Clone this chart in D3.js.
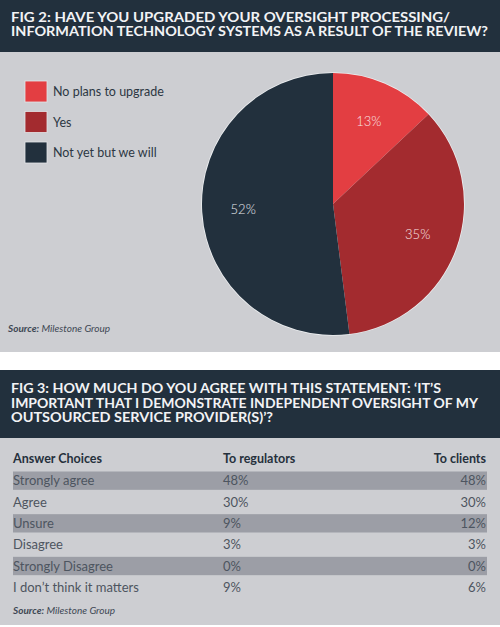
<!DOCTYPE html>
<html><head><meta charset="utf-8">
<script src="https://cdn.jsdelivr.net/npm/d3@7"></script>
<style>
html,body{margin:0;padding:0;background:#fff;}
svg{display:block;}
</style></head>
<body>
<script>
// ---- data ----
const fig2Title = ["FIG 2: HAVE YOU UPGRADED YOUR OVERSIGHT PROCESSING/",
                   "INFORMATION TECHNOLOGY SYSTEMS AS A RESULT OF THE REVIEW?"];
const pieLabels = ["No plans to upgrade", "Yes", "Not yet but we will"];
const pieValues = [13, 35, 52];
const pieColors = ["#e33e42", "#a32b2f", "#22303d"];

const fig3Title = ["FIG 3: HOW MUCH DO YOU AGREE WITH THIS STATEMENT: \u2018IT\u2019S",
                   "IMPORTANT THAT I DEMONSTRATE INDEPENDENT OVERSIGHT OF MY",
                   "OUTSOURCED SERVICE PROVIDER(S)\u2019?"];
const tableHeaders = ["Answer Choices", "To regulators", "To clients"];
const answerChoices = ["Strongly agree", "Agree", "Unsure", "Disagree", "Strongly Disagree", "I don\u2019t think it matters"];
const toRegulators = [48, 30, 9, 3, 0, 9];
const toClients = [48, 30, 12, 3, 0, 6];
const sourceText = ["Source:", " Milestone Group"];

// ---- drawing ----
const W = 500, H = 627;
const svg = d3.select("body").append("svg").attr("width", W).attr("height", H);
const dark = "#22303d", panel = "#cdced2";
const titleFont = "Lato, 'Open Sans', sans-serif";
const bodyFont = "Lato, 'Open Sans', sans-serif";

function fit(sel, w) {
  sel.attr("textLength", w).attr("lengthAdjust", "spacingAndGlyphs");
}

// FIG 2 header
svg.append("rect").attr("x", 0).attr("y", 0).attr("width", W).attr("height", 52).attr("fill", dark);
const t2w = [439, 477];
fig2Title.forEach((s, i) => {
  svg.append("text").attr("x", 11).attr("y", 21.5 + i * 14)
    .attr("fill", "#f2f3f5").attr("font-family", titleFont).attr("font-weight", 700)
    .attr("font-size", 12.5).text(s).call(fit, t2w[i]);
});
// panel
svg.append("rect").attr("x", 0).attr("y", 52).attr("width", W).attr("height", 300).attr("fill", panel);

// legend
const leg = svg.append("g");
pieLabels.forEach((lab, i) => {
  const y = 81 + i * 30.5;
  leg.append("rect").attr("x", 25).attr("y", y).attr("width", 22).attr("height", 21)
    .attr("fill", pieColors[i]).attr("stroke", "#e4e5e8").attr("stroke-width", 0.8);
  leg.append("text").attr("x", 53).attr("y", y + 15).attr("fill", "#2c3743")
    .attr("font-family", bodyFont).attr("font-size", 12.5).text(lab);
});

// pie
const cx = 333, cy = 204, R = 131;
const pie = d3.pie().sort(null).value(d => d)(pieValues);
const arc = d3.arc().innerRadius(0).outerRadius(R);
const labelArc = d3.arc().innerRadius(90).outerRadius(90);
const pg = svg.append("g").attr("transform", `translate(${cx},${cy})`);
pg.append("circle").attr("r", R + 0.8).attr("fill", "#eef0f2");
pg.selectAll("path.s").data(pie).join("path").attr("class", "s")
  .attr("d", arc).attr("fill", (d, i) => pieColors[i]);
pg.selectAll("text.l").data(pie).join("text").attr("class", "l")
  .attr("transform", d => `translate(${labelArc.centroid(d)})`)
  .attr("text-anchor", "middle").attr("dy", "0.35em")
  .attr("fill", (d, i) => i === 2 ? "#e8ebef" : "#f8e2e2")
  .attr("font-family", bodyFont).attr("font-size", 13).attr("font-weight", 300)
  .text(d => d.data + "%");

// source 1
function source(x, y) {
  const t = svg.append("text").attr("x", x).attr("y", y).attr("fill", "#3e4854")
    .attr("font-family", bodyFont).attr("font-size", 10).attr("font-style", "italic");
  t.append("tspan").attr("font-weight", 700).text(sourceText[0]);
  t.append("tspan").text(sourceText[1]);
}
source(8, 332);

// FIG 3 header
svg.append("rect").attr("x", 0).attr("y", 370).attr("width", W).attr("height", 68).attr("fill", dark);
const t3w = [430, 467, 262];
fig3Title.forEach((s, i) => {
  svg.append("text").attr("x", 11).attr("y", 393 + i * 14.5)
    .attr("fill", "#f2f3f5").attr("font-family", titleFont).attr("font-weight", 700)
    .attr("font-size", 13.5).text(s).call(fit, t3w[i]);
});
svg.append("rect").attr("x", 0).attr("y", 438).attr("width", W).attr("height", 187).attr("fill", panel);

// table
const rowY = d3.scaleBand().domain(d3.range(answerChoices.length)).range([470, 598]).paddingInner(0);
const xL = 13, xM = 223, xR = 486;
const tg = svg.append("g");
tg.selectAll("rect.band").data(answerChoices).join("rect")
  .attr("x", xL).attr("width", xR + 1 - xL)
  .attr("y", (d, i) => rowY(i) + 1.5).attr("height", rowY.bandwidth() - 3)
  .attr("fill", (d, i) => i % 2 === 0 ? "#9c9ea6" : "none");
// header
const hy = 463;
[[xL, "start"], [xM, "start"], [xR, "end"]].forEach((p, j) => {
  tg.append("text").attr("x", p[0]).attr("y", hy).attr("text-anchor", p[1])
    .attr("fill", "#25303c").attr("font-family", bodyFont).attr("font-weight", 700)
    .attr("font-size", 12.5).text(tableHeaders[j]);
});
const rowText = (cls, x, anchor, fn) => tg.selectAll("text." + cls).data(answerChoices).join("text")
  .attr("class", cls).attr("x", x).attr("text-anchor", anchor)
  .attr("y", (d, i) => rowY(i) + rowY.bandwidth() / 2 + 4.5)
  .attr("fill", "#4d5560").attr("font-family", bodyFont).attr("font-size", 13)
  .text(fn);
rowText("c0", xL, "start", d => d);
rowText("c1", xM, "start", (d, i) => toRegulators[i] + "%");
rowText("c2", xR, "end", (d, i) => toClients[i] + "%");

source(13, 614);
</script>
</body></html>
